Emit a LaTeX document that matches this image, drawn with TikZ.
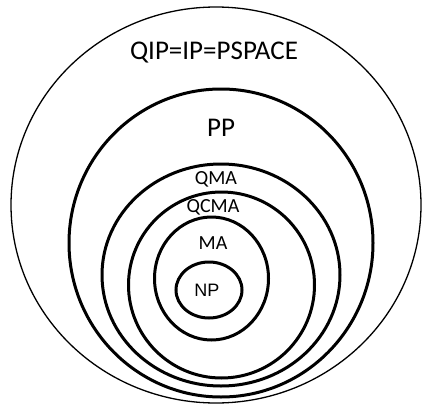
\documentclass[tikz,border=0pt]{standalone}
\usepackage{fontspec}
\setmainfont{Carlito}
\newfontfamily\arialfont{Liberation Sans}
\usepackage{tikz}

\begin{document}
\begin{tikzpicture}[x = 1pt, y = -1pt, auto = center]
          \useasboundingbox (0,0) rectangle (423,407);
          \draw[line width = 1.3pt] (216,205) ellipse (205 and 198);
          \draw[line width = 3pt] (221,243) ellipse (152 and 154);
          \draw[line width = 3pt] (221,275) ellipse (119 and 111);
          \draw[line width = 3pt] (221.5,285) ellipse (93 and 93);
          \draw[line width = 3pt] (211.5,278.5) ellipse (57 and 61.5);
          \draw[line width = 3pt] (209,290) ellipse (33 and 28);
          \node[font=\fontsize{27}{27}\selectfont] (pspace) at (214,53) {QIP=IP=PSPACE};
          \node[font=\fontsize{27}{27}\selectfont] (pp) at (221,128) {PP};
          \node[font=\fontsize{20}{20}\selectfont] (qma) at (216,179) {QMA};
          \node[font=\fontsize{20}{20}\selectfont] (qcma) at (213,207) {QCMA};
          \node[font=\fontsize{20}{20}\selectfont] (ma) at (213,243) {MA};
          \node[font=\arialfont\fontsize{18}{18}\selectfont] (np) at (207,290) {NP};
        \end{tikzpicture}
\end{document}
